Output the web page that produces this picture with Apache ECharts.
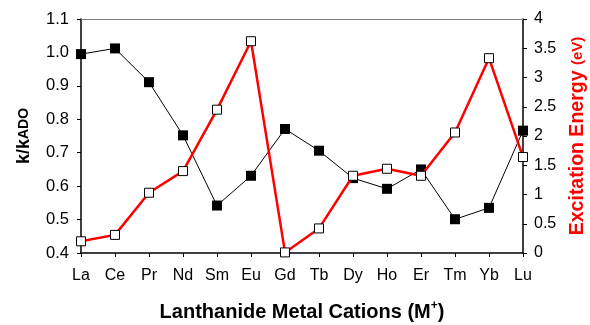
<!DOCTYPE html>
<html><head><meta charset="utf-8">
<script src="https://cdn.jsdelivr.net/npm/echarts@6/dist/echarts.min.js"></script>
<style>html,body{margin:0;padding:0;background:#fff}#c{width:590px;height:325px}</style>
</head><body><div id="c"></div>
<script>
const categories = ['La','Ce','Pr','Nd','Sm','Eu','Gd','Tb','Dy','Ho','Er','Tm','Yb','Lu'];
const rateRatio = [0.995,1.012,0.911,0.752,0.542,0.631,0.771,0.706,0.624,0.592,0.650,0.501,0.535,0.766];
const excitation = [0.20,0.31,1.03,1.40,2.45,3.62,0.01,0.42,1.32,1.44,1.32,2.06,3.33,1.64];
const leftTicks = {min:0.4, max:1.1, interval:0.1};
const rightTicks = {min:0, max:4, interval:0.5};

const chart = echarts.init(document.getElementById('c'));
const font = 'Liberation Sans, Arial, sans-serif';
chart.setOption({
  animation:false,
  grid:{left:81, right:67, top:19, bottom:72, containLabel:false, outerBoundsMode:'none'},
  xAxis:[{
    type:'category', data:categories, boundaryGap:false,
    axisLine:{lineStyle:{color:'#000', width:1.5}},
    axisTick:{inside:false, length:4, lineStyle:{color:'#000'}, alignWithLabel:true},
    axisLabel:{color:'#000', fontSize:16, fontFamily:font, margin:15},
    name:'Lanthanide Metal Cations (M{sup|+})',
    nameLocation:'middle', nameGap:47,
    nameTextStyle:{color:'#000', fontSize:20, fontWeight:'bold', fontFamily:font,
      rich:{sup:{fontSize:12, fontWeight:'bold', fontFamily:font, color:'#000', verticalAlign:'top', padding:[0,0,12,0]}}},
    splitLine:{show:false}
  },{
    type:'category', data:categories, boundaryGap:false, position:'top',
    axisLine:{lineStyle:{color:'#808080', width:1}},
    axisTick:{show:false}, axisLabel:{show:false}, splitLine:{show:false}
  }],
  yAxis:[{
    type:'value', min:leftTicks.min, max:leftTicks.max, interval:leftTicks.interval,
    axisLine:{show:true, lineStyle:{color:'#000', width:1.5}},
    axisTick:{show:true, length:4, lineStyle:{color:'#000'}},
    axisLabel:{color:'#000', fontSize:16.5, fontFamily:font, margin:12, formatter:v=>v.toFixed(1)},
    splitLine:{show:false},
    name:'k/k{s|ADO}', nameLocation:'middle', nameRotate:90, nameGap:48,
    nameTextStyle:{color:'#000', fontSize:18, fontWeight:'bold', fontFamily:font,
      rich:{s:{fontSize:14, fontWeight:'bold', fontFamily:font, color:'#000'}}}
  },{
    type:'value', min:rightTicks.min, max:rightTicks.max, interval:rightTicks.interval, position:'right',
    axisLine:{show:true, lineStyle:{color:'#000', width:1.5}},
    axisTick:{show:true, length:4, lineStyle:{color:'#000'}},
    axisLabel:{color:'#000', fontSize:16, fontFamily:font, margin:11, formatter:v=>String(v)},
    splitLine:{show:false},
    name:'Excitation Energy {s|(eV)}', nameLocation:'middle', nameRotate:90, nameGap:45,
    nameTextStyle:{color:'#ff0000', fontSize:19.5, fontWeight:'bold', fontFamily:font,
      rich:{s:{fontSize:15, fontWeight:'bold', fontFamily:font, color:'#ff0000'}}}
  }],
  series:[{
    type:'line', data:rateRatio, yAxisIndex:0, xAxisIndex:0,
    symbol:'rect', symbolSize:10,
    lineStyle:{color:'#000', width:1},
    itemStyle:{color:'#000', borderColor:'#000', borderWidth:0},
    z:2
  },{
    type:'line', data:excitation, yAxisIndex:1, xAxisIndex:0,
    symbol:'rect', symbolSize:9,
    lineStyle:{color:'#ff0000', width:2.5},
    itemStyle:{color:'#fff', borderColor:'#000', borderWidth:1},
    z:3
  }]
});
</script></body></html>
